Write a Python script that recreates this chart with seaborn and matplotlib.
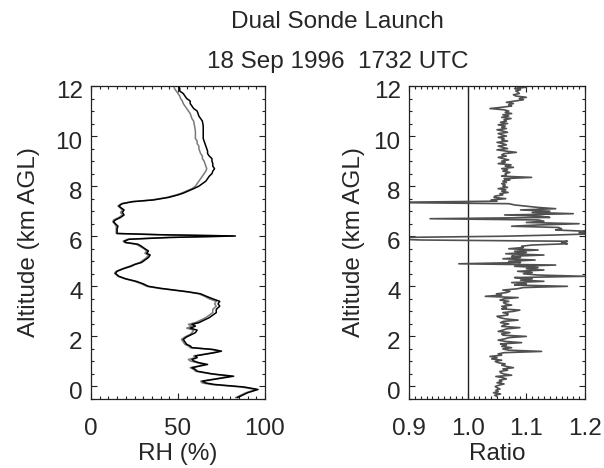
import numpy as np
import pandas as pd
import matplotlib
matplotlib.use("Agg")
import matplotlib.pyplot as plt
import matplotlib.transforms as mtransforms
from matplotlib.ticker import MultipleLocator
import seaborn as sns

# ---------------- data ----------------
alt_rh = [-0.45, -0.35, -0.25, -0.12, -0.02, 0.08, 0.14, 0.21, 0.30, 0.41, 0.50, 0.61, 0.68,
          0.75, 0.82, 0.88, 0.95, 1.02, 1.08, 1.15, 1.22, 1.28, 1.35, 1.41, 1.48, 1.55, 1.62,
          1.68, 1.78, 1.88, 1.98, 2.08, 2.15, 2.25, 2.33, 2.41, 2.48, 2.55, 2.65, 2.75, 2.85,
          2.95, 3.08, 3.21, 3.30, 3.40, 3.50, 3.61, 3.70, 3.78, 3.85, 3.92, 4.00, 4.10, 4.20,
          4.30, 4.40, 4.52, 4.60, 4.70, 4.80, 4.88, 4.95, 5.05, 5.15, 5.25, 5.32, 5.41, 5.50,
          5.60, 5.68, 5.75, 5.80, 5.88, 5.95, 6.01, 6.06, 6.11, 6.20, 6.30, 6.40, 6.50, 6.58,
          6.65, 6.75, 6.85, 6.95, 7.05, 7.15, 7.21, 7.30, 7.38, 7.45, 7.55, 7.65, 7.72, 7.81,
          7.90, 8.00, 8.10, 8.20, 8.30, 8.40, 8.50, 8.60, 8.70, 8.80, 8.90, 9.00, 9.10, 9.20,
          9.30, 9.40, 9.50, 9.60, 9.70, 9.80, 9.90, 10.0, 10.2, 10.4, 10.6, 10.7, 10.8, 10.9,
          11.0, 11.1, 11.2, 11.3, 11.4, 11.5, 11.6, 11.7, 11.8, 11.9, 12.0, 12.1]

rh_black = [84, 87, 90, 96, 88, 71, 66, 64, 72, 82, 70, 61, 60,
            58, 63, 67, 62, 59, 58, 61, 60, 65, 71, 75, 70, 58, 57,
            55, 54, 53, 55, 58, 60, 61, 57, 60, 58, 62, 65, 68, 70,
            72, 72, 74, 73, 74, 70, 66, 63, 56, 48, 40, 33, 30, 26,
            20, 16, 14, 15, 18.5, 23, 25.5, 29, 31, 33, 34, 32, 33, 31,
            29, 27, 20, 19, 22, 45, 83, 40, 15, 15, 15, 15.5, 14, 13,
            14, 17, 19, 18, 19, 17, 16, 18, 24, 36, 44.6, 50, 53, 56,
            59, 62, 64, 66, 67, 68, 69.5, 70, 71, 70, 70, 69.5, 69.5, 68,
            67, 67, 66.5, 66, 65.5, 65, 64.5, 64.5, 64.5, 64.5, 64, 63, 62, 61.5,
            61, 59, 58, 57, 57, 55, 54, 53, 51, 51, 50.5, 50.5]

rh_gray = [83, 86, 89, 95, 86, 69, 64, 63, 71, 80, 69, 60, 59,
           57, 62, 65, 61, 57, 56, 60, 59, 64, 70, 74, 69, 57, 56,
           54, 53, 52, 54, 57, 58, 59, 55, 58, 56, 60, 63, 66, 68,
           70, 70, 72, 71, 72, 68, 65, 62, 55, 47, 39, 32, 29, 25,
           19.5, 15.5, 13.5, 14.5, 18, 22, 25, 28, 30, 32, 33, 31, 32, 30.5,
           28, 26, 19.5, 18.5, 21, 44, 82, 39, 14.5, 14.5, 14.5, 14.5, 13.5, 12.5,
           13, 16, 18, 17, 18, 16.5, 15.5, 17.5, 23, 35, 43.5, 49, 52, 55,
           58, 60, 61, 62, 63, 64, 65, 66, 66.5, 66, 65.5, 65, 64, 64,
           63, 62.5, 62, 62, 61, 61, 60, 60, 60, 59.5, 59, 58, 57.5, 57,
           56, 55, 54, 53, 52.5, 51.5, 51, 50, 49, 48, 47.5, 47.5]

# ratio profile, altitude grid -0.40 ... 12.05 km every 0.05 km
alt_ratio = np.round(np.arange(-0.40, 12.051, 0.05), 2)
ratio = [
    1.050, 1.046, 1.056, 1.044, 1.052, 1.048, 1.055, 1.050, 1.047, 1.053,
    1.062, 1.050, 1.058, 1.054, 1.066, 1.060, 1.048, 1.075, 1.062, 1.056,
    1.055, 1.068, 1.060, 1.078, 1.066, 1.058, 1.064, 1.052, 1.047, 1.058,
    1.041, 1.050, 1.038, 1.058, 1.052, 1.062, 1.126, 1.070, 1.060, 1.075,
    1.058, 1.066, 1.056, 1.092, 1.064, 1.052, 1.063, 1.070, 1.100, 1.060,
    1.058, 1.072, 1.052, 1.060, 1.066, 1.089, 1.058, 1.061, 1.070, 1.056,
    1.061, 1.086, 1.064, 1.055, 1.050, 1.068, 1.069, 1.060, 1.078, 1.089,
    1.058, 1.066, 1.058, 1.075, 1.064, 1.061, 1.070, 1.055, 1.062, 1.086,
    1.030, 1.058, 1.049, 1.066, 1.072, 1.060, 1.084, 1.095, 1.170, 1.080,
    1.100, 1.075, 1.130, 1.090, 1.110, 1.080, 1.200, 1.120, 1.095, 1.110,
    1.085, 1.130, 1.100, 1.120, 1.080, 1.150, 0.985, 1.090, 1.070, 1.115,
    1.060, 1.090, 1.075, 1.130, 1.065, 1.100, 1.080, 1.120, 1.070, 1.095,
    1.092, 1.110, 1.170, 1.160, 1.170, 0.920, 0.860, 0.880, 1.060, 1.150,
    1.220, 1.190, 1.200, 1.150, 1.160, 1.155, 1.075, 1.120, 1.190, 1.100,
    1.130, 1.120, 0.936, 1.140, 1.125, 1.063, 1.180, 1.110, 1.140, 1.090,
    1.150, 1.120, 1.100, 1.080, 1.070, 0.850, 1.050, 1.040, 1.065, 1.045,
    1.046, 1.060, 1.055, 1.069, 1.058, 1.065, 1.052, 1.068, 1.060, 1.064,
    1.058, 1.066, 1.060, 1.072, 1.062, 1.109, 1.058, 1.066, 1.064, 1.072,
    1.060, 1.068, 1.058, 1.078, 1.064, 1.074, 1.052, 1.064, 1.058, 1.070,
    1.060, 1.052, 1.066, 1.058, 1.062, 1.083, 1.065, 1.050, 1.068, 1.060,
    1.052, 1.066, 1.060, 1.050, 1.068, 1.058, 1.062, 1.052, 1.066, 1.058,
    1.052, 1.068, 1.060, 1.050, 1.066, 1.058, 1.064, 1.052, 1.068, 1.056,
    1.066, 1.062, 1.074, 1.058, 1.070, 1.060, 1.075, 1.064, 1.070, 1.062,
    1.038, 1.058, 1.075, 1.070, 1.078, 1.066, 1.080, 1.095, 1.088, 1.100,
    1.082, 1.078, 1.088, 1.086, 1.082, 1.090, 1.080, 1.100, 1.078, 1.085,
]

title1 = "Dual Sonde Launch"
title2 = "18 Sep 1996  1732 UTC"

# ---------------- style ----------------
sns.set_theme(style="ticks")
plt.rcParams["font.family"] = ["Liberation Sans", "DejaVu Sans"]
FS = 17.5

fig = plt.figure(figsize=(6.04, 4.68), dpi=100)
ax1 = fig.add_axes([91 / 604, 1 - 399 / 468, 174 / 604, 313 / 468])
ax2 = fig.add_axes([409 / 604, 1 - 399 / 468, 176 / 604, 313 / 468])

df_rh = pd.DataFrame({"alt": alt_rh, "black": rh_black, "gray": rh_gray})
df_ratio = pd.DataFrame({"alt": alt_ratio, "ratio": ratio})

sns.lineplot(data=df_rh, x="gray", y="alt", orient="y", sort=False, estimator=None,
             color="#7a7a7a", lw=1.1, ax=ax1)
sns.lineplot(data=df_rh, x="black", y="alt", orient="y", sort=False, estimator=None,
             color="#000000", lw=1.1, ax=ax1)

ax2.axvline(1.0, color="#222222", lw=1.0)
sns.lineplot(data=df_ratio, x="ratio", y="alt", orient="y", sort=False, estimator=None,
             color="#505050", lw=1.2, ax=ax2)

for ax, lp in ((ax1, 11), (ax2, 6)):
    ax.set_ylim(-0.5, 12)
    ax.yaxis.set_major_locator(MultipleLocator(2))
    ax.yaxis.set_minor_locator(MultipleLocator(0.5))
    ax.tick_params(which="both", direction="in", top=True, right=True,
                   labelsize=FS, color="#222222", width=0.8)
    ax.tick_params(which="major", length=4.5)
    ax.tick_params(which="minor", length=2.5)
    ax.tick_params(axis="x", which="major", pad=14)
    ax.tick_params(axis="y", which="major", pad=6)
    for s in ax.spines.values():
        s.set_color("#222222")
        s.set_linewidth(0.9)
    ax.set_ylabel("Altitude (km AGL)", fontsize=FS, labelpad=lp)
    ax.grid(False)
    off = mtransforms.ScaledTranslation(0, -4 / 100, fig.dpi_scale_trans)
    for lab in ax.get_yticklabels():
        lab.set_transform(lab.get_transform() + off)

ax1.set_xlim(0, 100)
ax1.set_xticks([0, 50, 100])
ax1.xaxis.set_minor_locator(MultipleLocator(5))
ax1.set_xlabel("RH (%)", fontsize=FS, labelpad=2)

ax2.set_xlim(0.9, 1.2)
ax2.set_xticks([0.9, 1.0, 1.1, 1.2])
ax2.set_xticklabels(["0.9", "1.0", "1.1", "1.2"])
ax2.xaxis.set_minor_locator(MultipleLocator(0.01))
ax2.set_xlabel("Ratio", fontsize=FS, labelpad=2)

fig.text(337 / 604, 1 - 22 / 468, title1, ha="center", va="center", fontsize=FS)
fig.text(338 / 604, 1 - 62 / 468, title2, ha="center", va="center", fontsize=FS)

fig.savefig("out.png", dpi=100)
